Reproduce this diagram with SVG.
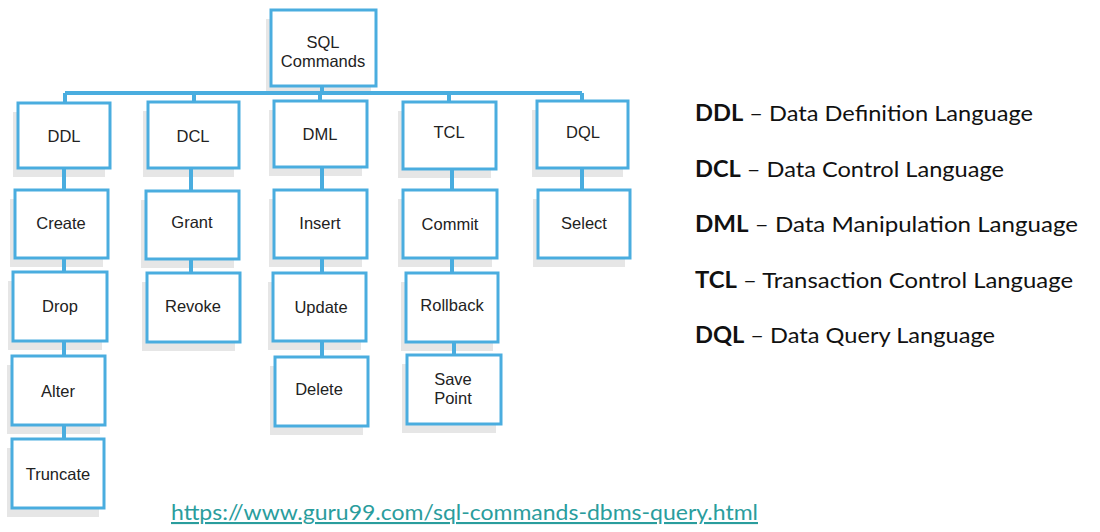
<svg xmlns="http://www.w3.org/2000/svg" width="1100" height="532" viewBox="0 0 1100 532">
<style>
.shadow{fill:#e6e6e6}
.box{fill:#ffffff;stroke:#4aaddf;stroke-width:3}
.lbl{font-family:"Liberation Sans",Arial,sans-serif;font-size:16.5px;fill:#222;text-anchor:middle}
.conn{stroke:#4aaddf;stroke-width:4;fill:none}
.leg{font-family:Lato,"Open Sans",sans-serif;font-size:22px;fill:#111}
.leg .b{font-weight:bold}
.url{font-family:Lato,"Open Sans",sans-serif;font-size:21px;fill:#2a9d9d;text-decoration:underline}
</style>
<rect width="1100" height="532" fill="#ffffff"/>
<g id="sql"><rect class="shadow" x="266" y="19" width="105" height="76"/><rect class="box" x="271" y="10" width="105" height="76"/><text class="lbl" x="323" y="48">SQL</text><text class="lbl" x="323" y="67">Commands</text></g>
<g id="ddl"><rect class="shadow" x="13" y="112" width="92" height="65"/><rect class="box" x="18" y="103" width="92" height="65"/><text class="lbl" x="64" y="142">DDL</text></g>
<g id="dcl"><rect class="shadow" x="143" y="111" width="91" height="66"/><rect class="box" x="148" y="102" width="91" height="66"/><text class="lbl" x="193" y="142">DCL</text></g>
<g id="dml"><rect class="shadow" x="269" y="110" width="93" height="66"/><rect class="box" x="274" y="101" width="93" height="66"/><text class="lbl" x="320" y="140">DML</text></g>
<g id="tcl"><rect class="shadow" x="398" y="111" width="93" height="67"/><rect class="box" x="403" y="102" width="93" height="67"/><text class="lbl" x="449" y="138">TCL</text></g>
<g id="dql"><rect class="shadow" x="532" y="110" width="91" height="67"/><rect class="box" x="537" y="101" width="91" height="67"/><text class="lbl" x="583" y="138">DQL</text></g>
<g id="create"><rect class="shadow" x="10" y="199" width="93" height="68"/><rect class="box" x="15" y="190" width="93" height="68"/><text class="lbl" x="61" y="229">Create</text></g>
<g id="grant"><rect class="shadow" x="141" y="200" width="93" height="68"/><rect class="box" x="146" y="191" width="93" height="68"/><text class="lbl" x="192" y="228">Grant</text></g>
<g id="insert"><rect class="shadow" x="269" y="199" width="93" height="68"/><rect class="box" x="274" y="190" width="93" height="68"/><text class="lbl" x="320" y="229">Insert</text></g>
<g id="commit"><rect class="shadow" x="398" y="199" width="94" height="68"/><rect class="box" x="403" y="190" width="94" height="68"/><text class="lbl" x="450" y="230">Commit</text></g>
<g id="select"><rect class="shadow" x="533" y="199" width="92" height="68"/><rect class="box" x="538" y="190" width="92" height="68"/><text class="lbl" x="584" y="229">Select</text></g>
<g id="drop"><rect class="shadow" x="8" y="281" width="94" height="69"/><rect class="box" x="13" y="272" width="94" height="69"/><text class="lbl" x="60" y="312">Drop</text></g>
<g id="revoke"><rect class="shadow" x="142" y="282" width="93" height="69"/><rect class="box" x="147" y="273" width="93" height="69"/><text class="lbl" x="193" y="312">Revoke</text></g>
<g id="update"><rect class="shadow" x="268" y="282" width="93" height="68"/><rect class="box" x="273" y="273" width="93" height="68"/><text class="lbl" x="321" y="313">Update</text></g>
<g id="rollback"><rect class="shadow" x="401" y="282" width="92" height="69"/><rect class="box" x="406" y="273" width="92" height="69"/><text class="lbl" x="452" y="311">Rollback</text></g>
<g id="alter"><rect class="shadow" x="7" y="365" width="93" height="69"/><rect class="box" x="12" y="356" width="93" height="69"/><text class="lbl" x="58" y="397">Alter</text></g>
<g id="delete"><rect class="shadow" x="270" y="366" width="93" height="69"/><rect class="box" x="275" y="357" width="93" height="69"/><text class="lbl" x="319" y="395">Delete</text></g>
<g id="savepoint"><rect class="shadow" x="402" y="364" width="94" height="69"/><rect class="box" x="407" y="355" width="94" height="69"/><text class="lbl" x="453" y="385">Save</text><text class="lbl" x="453" y="404">Point</text></g>
<g id="truncate"><rect class="shadow" x="7" y="448" width="92" height="69"/><rect class="box" x="12" y="439" width="92" height="69"/><text class="lbl" x="58" y="480">Truncate</text></g>
<g id="connectors">
<path class="conn" d="M322 87V93M65 93H582M65 93V102M194 93V101M320 93V100M449 93V101M582 93V100"/>
<path class="conn" d="M64 169V189M64 259V271M64 342V355M64 426V438"/>
<path class="conn" d="M191 169V190M191 260V272"/>
<path class="conn" d="M322 168V189M322 259V272M322 342V356"/>
<path class="conn" d="M452 170V189M452 259V272M454 343V354"/>
<path class="conn" d="M582 169V189"/>
</g>
<g id="legend">
<text class="leg" x="695" y="121" textLength="338" lengthAdjust="spacingAndGlyphs"><tspan class="b">DDL</tspan> – Data Definition Language</text>
<text class="leg" x="695" y="177" textLength="309" lengthAdjust="spacingAndGlyphs"><tspan class="b">DCL</tspan> – Data Control Language</text>
<text class="leg" x="695" y="232" textLength="383" lengthAdjust="spacingAndGlyphs"><tspan class="b">DML</tspan> – Data Manipulation Language</text>
<text class="leg" x="695" y="288" textLength="378" lengthAdjust="spacingAndGlyphs"><tspan class="b">TCL</tspan> – Transaction Control Language</text>
<text class="leg" x="695" y="343" textLength="300" lengthAdjust="spacingAndGlyphs"><tspan class="b">DQL</tspan> – Data Query Language</text>
</g>
<text class="url" x="171" y="520" textLength="587" lengthAdjust="spacingAndGlyphs">https://www.guru99.com/sql-commands-dbms-query.html</text>
</svg>
